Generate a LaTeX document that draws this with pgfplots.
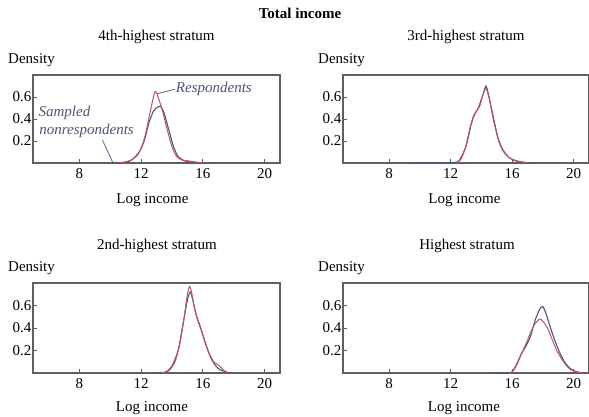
\documentclass[border=0pt]{standalone}
\usepackage{fontspec}
\setmainfont{Liberation Serif}
\usepackage{pgfplots}
\pgfplotsset{compat=1.18}
\definecolor{nonresp}{RGB}{75,85,120}
\definecolor{resp}{RGB}{195,80,110}
\definecolor{axgray}{RGB}{95,95,95}
\newcommand{\fs}{\fontsize{15bp}{17bp}\selectfont}
\pgfplotsset{
 panel/.style={
  scale only axis, width=247bp, height=88bp,
  xmin=5, xmax=21, ymin=0, ymax=0.8,
  xtick={8,12,16,20}, ytick={0.2,0.4,0.6},
  tick align=inside, major tick length=4bp,
  xtick pos=bottom, ytick pos=left,
  axis line style={axgray, line width=1.2bp},
  tick style={axgray, line width=0.8bp},
  ticklabel style={font=\fs},
  /pgf/number format/assume math mode=true,
  /pgf/number format/fixed,
  xticklabel style={yshift=-2bp},
  yticklabel style={xshift=2bp},
  clip=false,
 },
 nr/.style={nonresp, line width=1.1bp, smooth, tension=0.4, no marks},
 rs/.style={resp, line width=1.0bp, smooth, tension=0.4, no marks},
}
\begin{document}
\begin{tikzpicture}
\useasboundingbox (0,0) rectangle (589bp,417bp);
% panel 1
\begin{axis}[panel, at={(33bp,254bp)}, anchor=south west]
\addplot[nr] coordinates {(10.2,0) (10.8,0.005) (11.3,0.02) (11.8,0.08) (12.2,0.2) (12.5,0.36) (12.8,0.47) (13.1,0.51) (13.3,0.51) (13.5,0.45) (13.8,0.3) (14.1,0.15) (14.4,0.06) (14.8,0.02) (15.3,0.01) (15.8,0)};
\addplot[rs] coordinates {(10.5,0) (11,0.01) (11.5,0.04) (12,0.13) (12.3,0.27) (12.6,0.47) (12.9,0.65) (13.1,0.6) (13.4,0.47) (13.7,0.3) (14,0.15) (14.3,0.06) (14.6,0.03) (15,0.02) (15.5,0.01) (16,0)};
\draw[nonresp, line width=0.7bp] (axis cs:13.05,0.63) -- (axis cs:14.2,0.67);
\node[anchor=west, inner sep=0pt, font=\fs\itshape, text=nonresp] at (axis cs:14.25,0.67) {Respondents};
\node[anchor=west, inner sep=0pt, font=\fs\itshape, text=nonresp] at (axis cs:5.35,0.455) {Sampled};
\node[anchor=west, inner sep=0pt, font=\fs\itshape, text=nonresp] at (axis cs:5.4,0.29) {nonrespondents};
\draw[nonresp, line width=0.7bp] (axis cs:9.5,0.21) -- (axis cs:10.18,0);
\end{axis}
% panel 2
\begin{axis}[panel, width=246bp, at={(343bp,254bp)}, anchor=south west]
\addplot[nr] coordinates {(9.3,0) (11,0) (12.3,0.005) (12.6,0.03) (13.0,0.15) (13.3,0.33) (13.5,0.43) (13.8,0.5) (14.1,0.62) (14.3,0.70) (14.5,0.6) (14.8,0.4) (15.1,0.22) (15.4,0.12) (15.8,0.05) (16.2,0.02) (16.8,0.005) (17.1,0)};
\addplot[rs] coordinates {(12.4,0) (12.7,0.04) (13.0,0.16) (13.3,0.34) (13.6,0.45) (13.9,0.52) (14.1,0.62) (14.3,0.68) (14.5,0.59) (14.8,0.38) (15.1,0.21) (15.4,0.11) (15.8,0.05) (16.3,0.02) (17,0)};
\end{axis}
% panel 3
\begin{axis}[panel, height=90bp, at={(33bp,44bp)}, anchor=south west]
\addplot[nr] coordinates {(13.1,0) (13.6,0.01) (14.0,0.06) (14.4,0.2) (14.7,0.42) (15.0,0.65) (15.2,0.72) (15.4,0.62) (15.6,0.5) (15.9,0.38) (16.2,0.25) (16.5,0.14) (16.8,0.07) (17.1,0.03) (17.5,0.01) (17.8,0)};
\addplot[rs] coordinates {(13.3,0) (13.8,0.02) (14.2,0.1) (14.5,0.25) (14.8,0.5) (15.0,0.7) (15.15,0.77) (15.3,0.7) (15.5,0.55) (15.8,0.43) (16.1,0.3) (16.4,0.18) (16.7,0.1) (16.9,0.08) (17.1,0.06) (17.3,0.03) (17.6,0.0)};
\end{axis}
% panel 4
\begin{axis}[panel, width=246bp, height=90bp, at={(343bp,44bp)}, anchor=south west]
\addplot[nr] coordinates {(14.8,0) (15.5,0) (16.0,0.01) (16.3,0.08) (16.6,0.17) (16.9,0.24) (17.2,0.33) (17.5,0.47) (17.8,0.57) (18.0,0.59) (18.2,0.53) (18.5,0.4) (18.8,0.28) (19.1,0.18) (19.4,0.1) (19.7,0.05) (20.0,0.02) (20.5,0)};
\addplot[rs] coordinates {(15.8,0) (16.0,0.01) (16.3,0.07) (16.6,0.17) (16.9,0.26) (17.2,0.36) (17.5,0.44) (17.8,0.48) (18.0,0.46) (18.3,0.4) (18.6,0.3) (18.9,0.2) (19.2,0.13) (19.5,0.07) (19.8,0.03) (20.2,0.01) (20.6,0)};
\end{axis}
% texts
\node[font=\fs\bfseries] at (300bp,404bp) {Total income};
\node[font=\fs] at (156.5bp,380bp) {4th-highest stratum};
\node[font=\fs] at (466bp,380bp) {3rd-highest stratum};
\node[font=\fs] at (157bp,171bp) {2nd-highest stratum};
\node[font=\fs] at (467bp,171bp) {Highest stratum};
\node[font=\fs, anchor=west, inner sep=0pt] at (8bp,357bp) {Density};
\node[font=\fs, anchor=west, inner sep=0pt] at (318bp,357bp) {Density};
\node[font=\fs, anchor=west, inner sep=0pt] at (8bp,149bp) {Density};
\node[font=\fs, anchor=west, inner sep=0pt] at (318bp,149bp) {Density};
\node[font=\fs] at (152.5bp,217bp) {Log income};
\node[font=\fs] at (464.5bp,217bp) {Log income};
\node[font=\fs] at (152bp,9bp) {Log income};
\node[font=\fs] at (464bp,9bp) {Log income};
\end{tikzpicture}
\end{document}
